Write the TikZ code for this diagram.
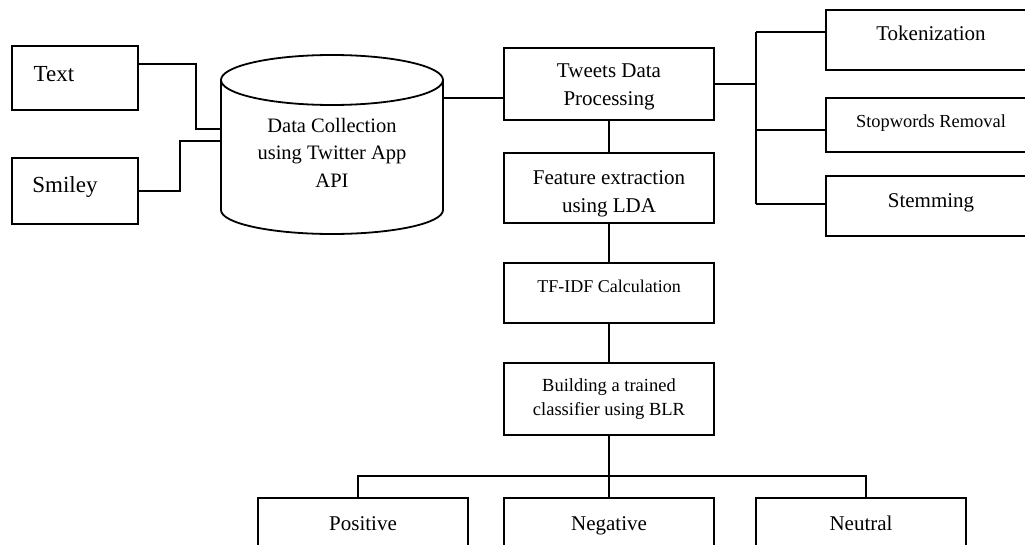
\documentclass[tikz,border=0pt]{standalone}
\usepackage{fontspec}
\setmainfont{Liberation Serif}
\begin{document}
\begin{tikzpicture}[x=1pt,y=-1pt,
  ln/.style={line width=1.8pt},
  box/.style={draw, line width=1.8pt, rectangle, inner sep=0pt},
  fbig/.style={font=\fontsize{23}{27}\selectfont},
  fmid/.style={font=\fontsize{21}{27.5}\selectfont},
  fsmall/.style={font=\fontsize{18.5}{24}\selectfont},
  lbl/.style={align=center, inner sep=0pt}
]
\clip (0,0) rectangle (1025,545);
\fill[white] (0,0) rectangle (1025,545);

% left inputs
\node[box, minimum width=126pt, minimum height=64pt,
  label={[lbl, fbig, xshift=-21pt, yshift=4pt]center:Text}] (text) at (75,78) {};
\node[box, minimum width=126pt, minimum height=66pt,
  label={[lbl, fbig, xshift=-10pt, yshift=4pt]center:Smiley}] (smiley) at (75,191) {};

% cylinder
\draw[ln] (221,80) -- (221,210) arc[start angle=180, end angle=360, x radius=111pt, y radius=24pt] -- (443,80);
\draw[ln] (332,80) ellipse [x radius=111pt, y radius=25pt];
\node[lbl, font=\fontsize{20.5}{27.5}\selectfont, minimum width=222pt] (db) at (332,152.5)
  {Data Collection\\using Twitter App\\API};

% main column
\node[box, minimum width=210pt, minimum height=72pt,
  label={[lbl, fmid, yshift=-3pt]center:{Tweets Data\\Processing}}] (tweets) at (609,84) {};
\node[box, minimum width=210pt, minimum height=70pt,
  label={[lbl, font=\fontsize{21}{28}\selectfont, yshift=-6pt]center:{Feature extraction\\using LDA}}] (feature) at (609,188) {};
\node[box, minimum width=210pt, minimum height=60pt,
  label={[lbl, font=\fontsize{18}{22}\selectfont, yshift=7pt]center:{TF-IDF Calculation}}] (tfidf) at (609,293) {};
\node[box, minimum width=210pt, minimum height=72pt,
  label={[lbl, fsmall, yshift=0pt]center:{Building a trained\\classifier using BLR}}] (build) at (609,399) {};

% right column
\node[box, minimum width=210pt, minimum height=60pt,
  label={[lbl, fmid, yshift=7pt]center:Tokenization}] (tok) at (931,40) {};
\node[box, minimum width=210pt, minimum height=54pt,
  label={[lbl, font=\fontsize{18.4}{22}\selectfont, yshift=2pt]center:{Stopwords Removal}}] (stop) at (931,125) {};
\node[box, minimum width=210pt, minimum height=60pt,
  label={[lbl, fmid, yshift=3pt]center:Stemming}] (stem) at (931,206) {};

% outputs
\node[box, minimum width=210pt, minimum height=60pt,
  label={[lbl, fmid, yshift=4pt]center:Positive}] (pos) at (363,528) {};
\node[box, minimum width=210pt, minimum height=60pt,
  label={[lbl, fmid, yshift=2pt]center:Negative}] (neg) at (609,528) {};
\node[box, minimum width=210pt, minimum height=60pt,
  label={[lbl, fmid, yshift=5pt]center:Neutral}] (neu) at (861,528) {};

% connectors
\draw[ln] (text.east |- 0,64) -- (196,64) |- (db.west |- 0,129);
\draw[ln] (smiley.east) -- (180,191) |- (db.west |- 0,141);
\draw[ln] (db.east |- 0,98) -- (tweets.west |- 0,98);
\draw[ln] (tweets.south) -- (feature.north);
\draw[ln] (feature.south) -- (tfidf.north);
\draw[ln] (tfidf.south) -- (build.north);

\coordinate (bt) at (756,32);
\coordinate (bb) at (756,204);
\draw[ln] (tweets.east) -- (tweets.east -| bt);
\draw[ln] (bt) -- (bb);
\draw[ln] (bt) -- (tok.west |- bt);
\draw[ln] (756,130) -- (stop.west |- 0,130);
\draw[ln] (bb) -- (stem.west |- bb);

\coordinate (jn) at (609,476);
\draw[ln] (build.south) -- (neg.north);
\draw[ln] ([xshift=-5pt]pos.north) |- (jn) -| ([xshift=5pt]neu.north);
\end{tikzpicture}
\end{document}
